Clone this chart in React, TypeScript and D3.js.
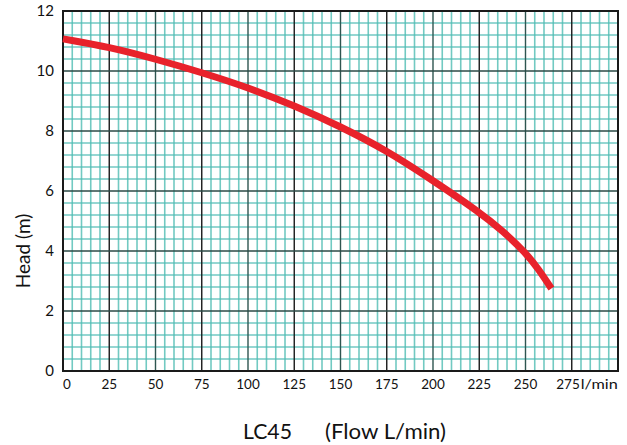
import React, { useEffect } from 'react';
import * as d3 from 'd3';

// pump curve (flow l/min -> head m)
const flow = [0, 25, 50, 75, 100, 125, 150, 175, 200, 225, 237.5, 250, 257, 264];
const head = [11.07, 10.8, 10.4, 9.95, 9.45, 8.85, 8.15, 7.35, 6.35, 5.3, 4.68, 3.95, 3.4, 2.75];
const xTicks = [0, 25, 50, 75, 100, 125, 150, 175, 200, 225, 250, 275];
const yTicks = [0, 2, 4, 6, 8, 10, 12];

const W = 627;
const H = 445;
const margin = { top: 11, right: 9, bottom: 74, left: 63 };

const App: React.FC = () => {
  useEffect(() => {
    document.body.style.margin = '0';
  }, []);

  const x = d3.scaleLinear().domain([0, 300]).range([margin.left, W - margin.right]);
  const y = d3.scaleLinear().domain([0, 12]).range([H - margin.bottom, margin.top]);

  const xMinor = d3.range(0, 300.01, 5).filter(v => v % 25 !== 0);
  const yMinor = d3.range(0, 12.01, 0.4).filter(v => Math.abs(v / 2 - Math.round(v / 2)) > 0.01);

  const line = d3.line<number>()
    .x((_, i) => x(flow[i]))
    .y(d => y(d))
    .curve(d3.curveBasis);

  const font = "Lato, 'Roboto', sans-serif";
  const x0 = x(0), x1 = x(300), y0 = y(0), y1 = y(12);

  return (
    <svg width={W} height={H} style={{ display: 'block', background: '#fff' }}>
      {/* minor grid */}
      {xMinor.map(v => (
        <line key={'xm' + v} x1={x(v)} x2={x(v)} y1={y1} y2={y0} stroke="#4fbdb4" strokeWidth={1.6} opacity={0.8} />
      ))}
      {yMinor.map(v => (
        <line key={'ym' + v} x1={x0} x2={x1} y1={y(v)} y2={y(v)} stroke="#4fbdb4" strokeWidth={1.6} opacity={0.8} />
      ))}
      {/* major grid */}
      {xTicks.map(v => (
        <line key={'xM' + v} x1={x(v)} x2={x(v)} y1={y1} y2={y0}
          stroke={v % 50 === 0 ? '#2e5550' : '#1a1a1a'} strokeWidth={1.4} />
      ))}
      {yTicks.map(v => (
        <line key={'yM' + v} x1={x0} x2={x1} y1={y(v)} y2={y(v)} stroke="#2b4a46" strokeWidth={1.4} />
      ))}
      <rect x={x0} y={y1} width={x1 - x0} height={y0 - y1} fill="none" stroke="#1a1a1a" strokeWidth={2} />

      {/* curve */}
      <path d={line(head) ?? ''} fill="none" stroke="#e8222b" strokeWidth={7} strokeLinecap="butt" />

      {/* tick labels */}
      {yTicks.map(v => (
        <text key={'yl' + v} x={x0 - 9} y={y(v) + 5} textAnchor="end" fontFamily={font} fontSize={15} fill="#111">{v}</text>
      ))}
      {xTicks.map(v => (
        <text key={'xl' + v} x={v === 275 ? x(v) + 8 : x(v)} y={y0 + 18}
          textAnchor={v === 0 ? 'start' : v === 275 ? 'end' : 'middle'} fontFamily={font} fontSize={13.5} fill="#111">{v}</text>
      ))}
      <text x={x(275) + 9} y={y0 + 18} fontFamily={font} fontSize={13.5} fill="#111" textLength={37} lengthAdjust="spacingAndGlyphs">l/min</text>

      {/* axis titles */}
      <text transform={`translate(30, 251) rotate(-90)`} textAnchor="middle" fontFamily={font} fontSize={19} fill="#111">Head (m)</text>
      <text x={243} y={439} fontFamily={font} fontSize={22} fill="#111" textLength={49} lengthAdjust="spacingAndGlyphs">LC45</text>
      <text x={325} y={439} fontFamily={font} fontSize={22} fill="#111" textLength={121} lengthAdjust="spacingAndGlyphs">(Flow L/min)</text>
    </svg>
  );
};

export default App;
